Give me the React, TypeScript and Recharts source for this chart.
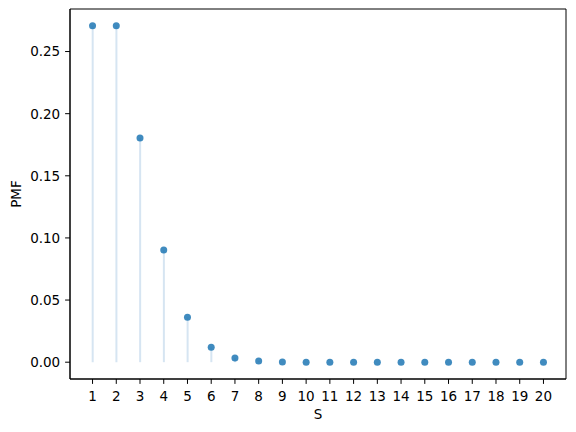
import React from 'react';
import { ComposedChart, Bar, Scatter, XAxis, YAxis, ReferenceArea } from 'recharts';

const sValues = [1, 2, 3, 4, 5, 6, 7, 8, 9, 10, 11, 12, 13, 14, 15, 16, 17, 18, 19, 20];
const pmfValues = [0.2707, 0.2707, 0.1804, 0.0902, 0.0361, 0.0120, 0.0034, 0.0009, 0.0002, 0.00004, 0.00001, 0, 0, 0, 0, 0, 0, 0, 0, 0];
const yTicks = [0, 0.05, 0.1, 0.15, 0.2, 0.25];

const data = sValues.map((s, i) => ({ s, pmf: pmfValues[i] }));

const X_DOMAIN: [number, number] = [0.05, 20.95];
const Y_DOMAIN: [number, number] = [-0.01353, 0.28424];

const FS = 13.5;
const FF = 'DejaVu Sans';

const Dot = (props: any) => {
  const { cx, cy } = props;
  return <circle cx={cx} cy={cy} r={3.5} fill="#1f77b4" fillOpacity={0.85} />;
};

const XTick = (props: any) => {
  const { x, y, payload } = props;
  return (
    <text x={x} y={y} dy="0.72em" textAnchor="middle" fontFamily={FF} fontSize={FS} fill="#000">
      {payload.value}
    </text>
  );
};

const YTick = (props: any) => {
  const { x, y, payload } = props;
  return (
    <text x={x} y={y} dy="0.36em" textAnchor="end" fontFamily={FF} fontSize={FS} fill="#000">
      {Number(payload.value).toFixed(2)}
    </text>
  );
};

const XLabel = (props: any) => {
  const vb = props.viewBox || {};
  return (
    <text x={vb.x + vb.width / 2} y={414} dy="0.36em" textAnchor="middle" fontFamily={FF} fontSize={FS} fill="#000">
      S
    </text>
  );
};

const YLabel = (props: any) => {
  const vb = props.viewBox || {};
  const cy = vb.y + vb.height / 2;
  return (
    <text x={16} y={cy} dy="0.36em" textAnchor="middle" transform={`rotate(-90, 16, ${cy})`} fontFamily={FF} fontSize={FS} fill="#000">
      PMF
    </text>
  );
};

export default function App() {
  return (
    <div style={{ position: 'absolute', left: 0, top: 0, width: 576, height: 432, background: '#fff' }}>
      <ComposedChart width={576} height={432} data={data} margin={{ top: 9, right: 10, bottom: 0, left: 0 }}>
        <XAxis
          dataKey="s"
          type="number"
          domain={X_DOMAIN}
          ticks={sValues}
          allowDataOverflow
          height={53}
          tickSize={4.9}
          tickMargin={7}
          tick={XTick}
          axisLine={{ stroke: '#000', strokeWidth: 1 }}
          tickLine={{ stroke: '#000', strokeWidth: 1 }}
          label={{ content: XLabel }}
        />
        <YAxis
          type="number"
          domain={Y_DOMAIN}
          ticks={yTicks}
          allowDataOverflow
          width={70}
          tickSize={4.9}
          tickMargin={4.9}
          tick={YTick}
          axisLine={{ stroke: '#000', strokeWidth: 1 }}
          tickLine={{ stroke: '#000', strokeWidth: 1 }}
          label={{ content: YLabel }}
        />
        <ReferenceArea x1={X_DOMAIN[0]} x2={X_DOMAIN[1]} y1={Y_DOMAIN[0]} y2={Y_DOMAIN[1]} fill="none" stroke="#000" strokeWidth={1} />
        <Bar dataKey="pmf" barSize={2} fill="#d6e5f2" isAnimationActive={false} />
        <Scatter dataKey="pmf" shape={Dot} isAnimationActive={false} />
      </ComposedChart>
    </div>
  );
}
